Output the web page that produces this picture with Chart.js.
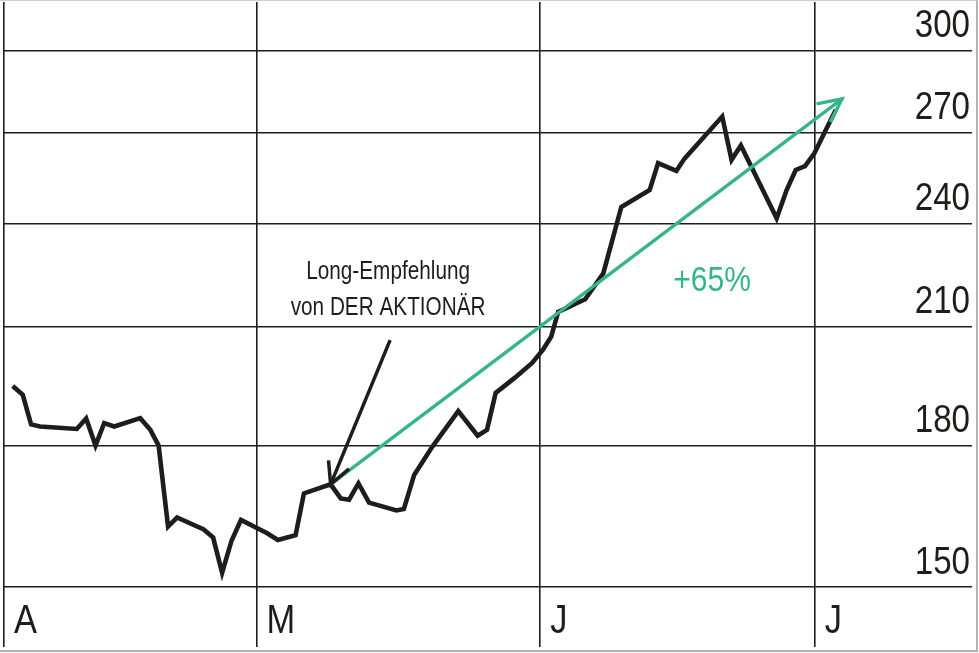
<!DOCTYPE html>
<html lang="de">
<head>
<meta charset="utf-8">
<title>Kursverlauf</title>
<script src="https://cdn.jsdelivr.net/npm/chart.js@4.4.1/dist/chart.umd.min.js"></script>
<style>
  html, body { margin: 0; padding: 0; background: #fff; }
  #wrap { position: relative; width: 979px; height: 653px; }
  #frame {
    position: absolute; left: 0; top: 0; width: 976px; height: 649px;
    border-top: 1px solid #cfcfcf; border-right: 2px solid #b4b4b4; border-bottom: 2px solid #b4b4b4;
    pointer-events: none;
  }
</style>
</head>
<body>
<div id="wrap">
  <canvas id="kursChart" width="979" height="653"></canvas>
  <div id="frame"></div>
</div>
<script>
// x = Tage seit 1. April, y = Kurs (Euro)
const days = [3.35, 4.45, 5.36, 6.34, 10.36, 11.38, 12.40, 13.35, 14.45, 17.29,
              18.39, 19.30, 20.33, 21.31, 24.23, 25.26, 26.24, 27.26, 28.30, 31.17,
              32.33, 34.27, 35.18, 38.10, 39.20, 40.11, 41.14, 42.30, 45.28, 46.10,
              47.23, 49.17, 52.05, 54.17, 55.19, 56.14, 58.18, 60.12, 61.29, 62.20,
              62.97, 65.92, 67.90, 69.87, 72.97, 73.89, 75.89, 76.80, 80.90, 81.92,
              82.94, 86.85, 87.94, 88.93, 89.95, 90.97, 93.31];
const prices = [194.5, 192.3, 185.1, 184.6, 184.0, 186.5, 180.1, 185.4, 184.6, 186.6,
                183.8, 180.1, 162.2, 164.1, 161.6, 159.9, 152.8, 159.2, 163.6, 160.8,
                159.4, 160.4, 169.3, 171.3, 168.2, 167.9, 171.5, 167.3, 165.6, 165.9,
                173.4, 179.7, 188.3, 182.4, 183.8, 192.8, 196.5, 200.4, 203.8, 207.3,
                214.1, 217.6, 225.0, 245.2, 250.6, 259.5, 256.9, 261.1, 275.6, 260.6,
                265.5, 241.6, 250.6, 257.2, 258.5, 262.8, 278.0];

const monthStarts = [2.4, 30, 61, 91];
const monthLabels = ['A', 'M', 'J', 'J'];
const priceTicks = [150, 180, 210, 240, 270, 300];

const recIndex = 23;                 // Kaufempfehlung
const targetPoint = [94.0, 282];     // Pfeilspitze +65 %
const gainLabel = '+65%';
const gainLabelAt = [79.8, 220];
const noteLines = ['Long-Empfehlung', 'von DER AKTIONÄR'];
const noteAnchor = [44.6, 206.4];

const ink = '#1d1d1b';
const green = '#36b48c';

// condensed look: Liberation Sans squeezed horizontally
function narrowText(ctx, text, x, y, size, squeeze, align) {
    ctx.save();
    ctx.font = size + 'px "Liberation Sans", Arial, sans-serif';
    ctx.textAlign = align;
    ctx.textBaseline = 'alphabetic';
    ctx.translate(x, y);
    ctx.scale(squeeze, 1);
    ctx.fillText(text, 0, 0);
    ctx.restore();
}

function drawArrowHead(ctx, fromX, fromY, tipX, tipY, len, spread) {
    const angle = Math.atan2(fromY - tipY, fromX - tipX);
    ctx.beginPath();
    ctx.moveTo(tipX + len * Math.cos(angle - spread), tipY + len * Math.sin(angle - spread));
    ctx.lineTo(tipX, tipY);
    ctx.lineTo(tipX + len * Math.cos(angle + spread), tipY + len * Math.sin(angle + spread));
    ctx.stroke();
}

const tickLabels = {
    id: 'tickLabels',
    afterDraw(chart) {
        const {ctx, chartArea, scales: {x, y}} = chart;
        ctx.fillStyle = ink;
        x.ticks.forEach((t, i) => {
            narrowText(ctx, monthLabels[i], x.getPixelForTick(i) + 10, chartArea.bottom + 46, 41, 0.84, 'left');
        });
        y.ticks.forEach((t, i) => {
            narrowText(ctx, String(t.value), chartArea.right - 2, y.getPixelForTick(i) - 13.5, 39, 0.85, 'right');
        });
    }
};

const annotations = {
    id: 'annotations',
    afterDatasetsDraw(chart) {
        const {ctx, scales: {x, y}} = chart;
        const recX = x.getPixelForValue(days[recIndex]);
        const recY = y.getPixelForValue(prices[recIndex]);
        const tipX = x.getPixelForValue(targetPoint[0]);
        const tipY = y.getPixelForValue(targetPoint[1]);
        const ancX = x.getPixelForValue(noteAnchor[0]);
        const ancY = y.getPixelForValue(noteAnchor[1]);

        ctx.save();
        ctx.lineJoin = 'miter';

        // green arrow head
        ctx.strokeStyle = green;
        ctx.lineWidth = 3.4;
        drawArrowHead(ctx, recX, recY, tipX, tipY, 26, 0.45);

        // pointer from the note to the buy point
        ctx.strokeStyle = ink;
        ctx.lineWidth = 3.5;
        ctx.beginPath();
        ctx.moveTo(ancX, ancY);
        ctx.lineTo(recX, recY);
        ctx.stroke();
        drawArrowHead(ctx, ancX, ancY, recX, recY, 24, 0.48);

        // texts
        ctx.fillStyle = ink;
        noteLines.forEach((line, i) => {
            narrowText(ctx, line, ancX - 2, ancY - 25 - 36 * (noteLines.length - 1 - i), 25, 0.83, 'center');
        });
        ctx.fillStyle = green;
        narrowText(ctx, gainLabel, x.getPixelForValue(gainLabelAt[0]), y.getPixelForValue(gainLabelAt[1]), 35, 0.86, 'center');
        ctx.restore();
    }
};

const kursChart = new Chart(document.getElementById('kursChart'), {
    type: 'line',
    data: {
        datasets: [{
            data: [
                {x: days[recIndex], y: prices[recIndex]},
                {x: targetPoint[0], y: targetPoint[1]}
            ],
            borderColor: green,
            borderWidth: 3.4,
            pointRadius: 0,
            order: 0
        }, {
            data: days.map((d, i) => ({x: d, y: prices[i]})),
            borderColor: ink,
            borderWidth: 4.6,
            pointRadius: 0,
            tension: 0,
            borderJoinStyle: 'miter',
            order: 1
        }]
    },
    options: {
        responsive: false,
        animation: false,
        layout: {padding: {left: 4, top: 2, right: 7, bottom: 6}},
        plugins: {legend: {display: false}, tooltip: {enabled: false}},
        scales: {
            x: {
                type: 'linear',
                bounds: 'data',
                min: monthStarts[0],
                max: 108.2,
                border: {display: false},
                grid: {color: ink, lineWidth: 1.6, tickLength: 60, tickColor: ink, tickWidth: 1.6},
                afterBuildTicks: (scale) => {
                    scale.ticks = monthStarts.map(v => ({value: v}));
                },
                afterFit: (scale) => {
                    scale.height = 60;
                    scale.paddingLeft = scale.paddingRight = 0;
                },
                ticks: {display: false, autoSkip: false}
            },
            y: {
                type: 'logarithmic',
                position: 'right',
                bounds: 'data',
                min: 150,
                max: 319.6,
                border: {display: false},
                grid: {color: ink, lineWidth: 1.6, drawTicks: false},
                afterBuildTicks: (scale) => {
                    scale.ticks = priceTicks.map(v => ({value: v}));
                },
                afterFit: (scale) => {
                    scale.width = 0;
                    scale.paddingTop = scale.paddingBottom = 0;
                },
                ticks: {display: false}
            }
        }
    },
    plugins: [tickLabels, annotations]
});
</script>
</body>
</html>
